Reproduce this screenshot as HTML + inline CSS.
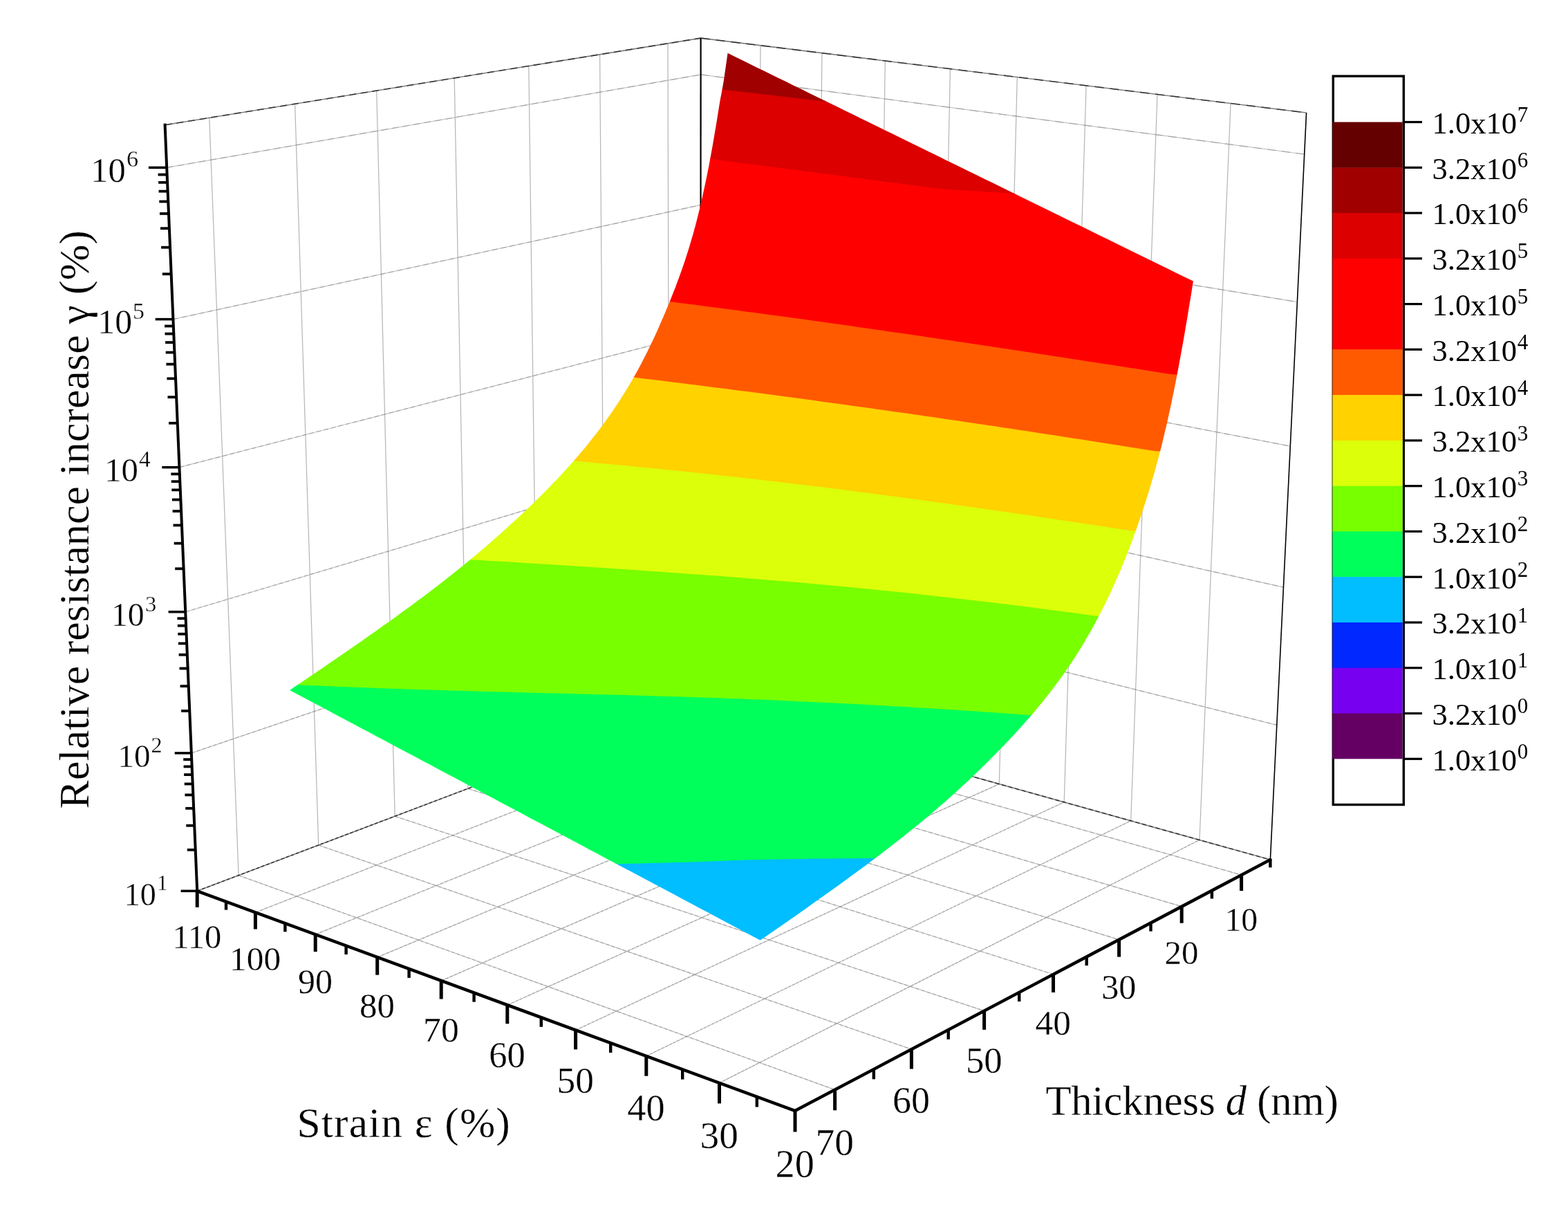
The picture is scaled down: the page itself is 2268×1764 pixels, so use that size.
<!DOCTYPE html>
<html><head><meta charset="utf-8"><title>Relative resistance increase surface plot</title>
<style>html,body{margin:0;padding:0;background:#fff}svg{display:block}</style></head>
<body>
<svg xmlns="http://www.w3.org/2000/svg" width="2268" height="1764" viewBox="0 0 2268 1764">
<rect x="0" y="0" width="2268" height="1764" fill="#fff"/>
<g id="grid" fill="none">
<line x1="968.1" y1="1030.1" x2="966.0" y2="62.8" stroke="#b4b4b4" stroke-width="1.2" stroke-linecap="butt"/>
<line x1="875.1" y1="1065.3" x2="867.6" y2="78.7" stroke="#b4b4b4" stroke-width="1.2" stroke-linecap="butt"/>
<line x1="778.1" y1="1102.0" x2="764.8" y2="95.4" stroke="#b4b4b4" stroke-width="1.2" stroke-linecap="butt"/>
<line x1="676.9" y1="1140.2" x2="657.2" y2="112.8" stroke="#b4b4b4" stroke-width="1.2" stroke-linecap="butt"/>
<line x1="571.2" y1="1180.2" x2="544.7" y2="131.1" stroke="#b4b4b4" stroke-width="1.2" stroke-linecap="butt"/>
<line x1="460.7" y1="1222.0" x2="426.6" y2="150.2" stroke="#b4b4b4" stroke-width="1.2" stroke-linecap="butt"/>
<line x1="345.1" y1="1265.7" x2="302.8" y2="170.3" stroke="#b4b4b4" stroke-width="1.2" stroke-linecap="butt"/>
<line x1="276.8" y1="1088.9" x2="1013.3" y2="839.2" stroke="#8a8a8a" stroke-width="1.2" stroke-linecap="butt" stroke-opacity="0.50"/>
<line x1="276.8" y1="1088.9" x2="1013.3" y2="839.2" stroke="#8a8a8a" stroke-width="1.2" stroke-linecap="butt" stroke-dasharray="5.05 3.36" stroke-opacity="0.6"/>
<line x1="268.2" y1="884.7" x2="1013.4" y2="661.9" stroke="#8a8a8a" stroke-width="1.2" stroke-linecap="butt" stroke-opacity="0.50"/>
<line x1="268.2" y1="884.7" x2="1013.4" y2="661.9" stroke="#8a8a8a" stroke-width="1.2" stroke-linecap="butt" stroke-dasharray="5.66 3.77" stroke-opacity="0.6"/>
<line x1="259.4" y1="675.7" x2="1013.5" y2="481.0" stroke="#8a8a8a" stroke-width="1.2" stroke-linecap="butt" stroke-opacity="0.50"/>
<line x1="259.4" y1="675.7" x2="1013.5" y2="481.0" stroke="#8a8a8a" stroke-width="1.2" stroke-linecap="butt" stroke-dasharray="6.48 4.32" stroke-opacity="0.6"/>
<line x1="250.4" y1="461.6" x2="1013.5" y2="296.4" stroke="#8a8a8a" stroke-width="1.2" stroke-linecap="butt" stroke-opacity="0.50"/>
<line x1="250.4" y1="461.6" x2="1013.5" y2="296.4" stroke="#8a8a8a" stroke-width="1.2" stroke-linecap="butt" stroke-dasharray="7.66 5.10" stroke-opacity="0.6"/>
<line x1="241.2" y1="242.3" x2="1013.6" y2="107.9" stroke="#8a8a8a" stroke-width="1.2" stroke-linecap="butt" stroke-opacity="0.50"/>
<line x1="241.2" y1="242.3" x2="1013.6" y2="107.9" stroke="#8a8a8a" stroke-width="1.2" stroke-linecap="butt" stroke-dasharray="9.45 6.30" stroke-opacity="0.6"/>
<line x1="1735.0" y1="1214.5" x2="1780.1" y2="149.5" stroke="#b4b4b4" stroke-width="1.2" stroke-linecap="butt"/>
<line x1="1635.7" y1="1186.8" x2="1674.0" y2="136.4" stroke="#b4b4b4" stroke-width="1.2" stroke-linecap="butt"/>
<line x1="1539.2" y1="1159.8" x2="1571.1" y2="123.7" stroke="#b4b4b4" stroke-width="1.2" stroke-linecap="butt"/>
<line x1="1445.3" y1="1133.6" x2="1471.3" y2="111.4" stroke="#b4b4b4" stroke-width="1.2" stroke-linecap="butt"/>
<line x1="1354.1" y1="1108.2" x2="1374.4" y2="99.5" stroke="#b4b4b4" stroke-width="1.2" stroke-linecap="butt"/>
<line x1="1265.4" y1="1083.4" x2="1280.3" y2="87.9" stroke="#b4b4b4" stroke-width="1.2" stroke-linecap="butt"/>
<line x1="1179.1" y1="1059.3" x2="1188.9" y2="76.6" stroke="#b4b4b4" stroke-width="1.2" stroke-linecap="butt"/>
<line x1="1095.1" y1="1035.9" x2="1100.0" y2="65.7" stroke="#b4b4b4" stroke-width="1.2" stroke-linecap="butt"/>
<line x1="1013.3" y1="839.2" x2="1846.8" y2="1048.3" stroke="#8a8a8a" stroke-width="1.2" stroke-linecap="butt" stroke-opacity="0.50"/>
<line x1="1013.3" y1="839.2" x2="1846.8" y2="1048.3" stroke="#8a8a8a" stroke-width="1.2" stroke-linecap="butt" stroke-dasharray="6.66 4.44" stroke-opacity="0.6"/>
<line x1="1013.4" y1="661.9" x2="1856.4" y2="849.1" stroke="#8a8a8a" stroke-width="1.2" stroke-linecap="butt" stroke-opacity="0.50"/>
<line x1="1013.4" y1="661.9" x2="1856.4" y2="849.1" stroke="#8a8a8a" stroke-width="1.2" stroke-linecap="butt" stroke-dasharray="7.48 4.98" stroke-opacity="0.6"/>
<line x1="1013.5" y1="481.0" x2="1866.3" y2="645.2" stroke="#8a8a8a" stroke-width="1.2" stroke-linecap="butt" stroke-opacity="0.50"/>
<line x1="1013.5" y1="481.0" x2="1866.3" y2="645.2" stroke="#8a8a8a" stroke-width="1.2" stroke-linecap="butt" stroke-dasharray="8.57 5.71" stroke-opacity="0.6"/>
<line x1="1013.5" y1="296.4" x2="1876.4" y2="436.6" stroke="#8a8a8a" stroke-width="1.2" stroke-linecap="butt" stroke-opacity="0.50"/>
<line x1="1013.5" y1="296.4" x2="1876.4" y2="436.6" stroke="#8a8a8a" stroke-width="1.2" stroke-linecap="butt" stroke-dasharray="10.10 6.73" stroke-opacity="0.6"/>
<line x1="1013.6" y1="107.9" x2="1886.7" y2="223.0" stroke="#8a8a8a" stroke-width="1.2" stroke-linecap="butt" stroke-opacity="0.50"/>
<line x1="1013.6" y1="107.9" x2="1886.7" y2="223.0" stroke="#8a8a8a" stroke-width="1.2" stroke-linecap="butt" stroke-dasharray="12.40 8.27" stroke-opacity="0.6"/>
<line x1="1040.5" y1="1565.9" x2="1735.0" y2="1214.5" stroke="#8a8a8a" stroke-width="1.2" stroke-linecap="butt" stroke-opacity="0.50"/>
<line x1="1040.5" y1="1565.9" x2="1735.0" y2="1214.5" stroke="#8a8a8a" stroke-width="1.2" stroke-linecap="butt" stroke-dasharray="3.59 2.39" stroke-opacity="0.6"/>
<line x1="934.8" y1="1527.0" x2="1635.7" y2="1186.8" stroke="#8a8a8a" stroke-width="1.2" stroke-linecap="butt" stroke-opacity="0.50"/>
<line x1="934.8" y1="1527.0" x2="1635.7" y2="1186.8" stroke="#8a8a8a" stroke-width="1.2" stroke-linecap="butt" stroke-dasharray="3.71 2.47" stroke-opacity="0.6"/>
<line x1="832.6" y1="1489.5" x2="1539.2" y2="1159.8" stroke="#8a8a8a" stroke-width="1.2" stroke-linecap="butt" stroke-opacity="0.50"/>
<line x1="832.6" y1="1489.5" x2="1539.2" y2="1159.8" stroke="#8a8a8a" stroke-width="1.2" stroke-linecap="butt" stroke-dasharray="3.83 2.55" stroke-opacity="0.6"/>
<line x1="733.8" y1="1453.2" x2="1445.3" y2="1133.6" stroke="#8a8a8a" stroke-width="1.2" stroke-linecap="butt" stroke-opacity="0.50"/>
<line x1="733.8" y1="1453.2" x2="1445.3" y2="1133.6" stroke="#8a8a8a" stroke-width="1.2" stroke-linecap="butt" stroke-dasharray="3.95 2.64" stroke-opacity="0.6"/>
<line x1="638.2" y1="1418.1" x2="1354.1" y2="1108.2" stroke="#8a8a8a" stroke-width="1.2" stroke-linecap="butt" stroke-opacity="0.50"/>
<line x1="638.2" y1="1418.1" x2="1354.1" y2="1108.2" stroke="#8a8a8a" stroke-width="1.2" stroke-linecap="butt" stroke-dasharray="4.08 2.72" stroke-opacity="0.6"/>
<line x1="545.7" y1="1384.1" x2="1265.4" y2="1083.4" stroke="#8a8a8a" stroke-width="1.2" stroke-linecap="butt" stroke-opacity="0.50"/>
<line x1="545.7" y1="1384.1" x2="1265.4" y2="1083.4" stroke="#8a8a8a" stroke-width="1.2" stroke-linecap="butt" stroke-dasharray="4.20 2.80" stroke-opacity="0.6"/>
<line x1="456.2" y1="1351.1" x2="1179.1" y2="1059.3" stroke="#8a8a8a" stroke-width="1.2" stroke-linecap="butt" stroke-opacity="0.50"/>
<line x1="456.2" y1="1351.1" x2="1179.1" y2="1059.3" stroke="#8a8a8a" stroke-width="1.2" stroke-linecap="butt" stroke-dasharray="4.33 2.89" stroke-opacity="0.6"/>
<line x1="369.4" y1="1319.3" x2="1095.1" y2="1035.9" stroke="#8a8a8a" stroke-width="1.2" stroke-linecap="butt" stroke-opacity="0.50"/>
<line x1="369.4" y1="1319.3" x2="1095.1" y2="1035.9" stroke="#8a8a8a" stroke-width="1.2" stroke-linecap="butt" stroke-dasharray="4.45 2.97" stroke-opacity="0.6"/>
<line x1="968.1" y1="1030.1" x2="1795.6" y2="1265.1" stroke="#8a8a8a" stroke-width="1.2" stroke-linecap="butt" stroke-opacity="0.50"/>
<line x1="968.1" y1="1030.1" x2="1795.6" y2="1265.1" stroke="#8a8a8a" stroke-width="1.2" stroke-linecap="butt" stroke-dasharray="5.93 3.95" stroke-opacity="0.6"/>
<line x1="875.1" y1="1065.3" x2="1709.2" y2="1310.7" stroke="#8a8a8a" stroke-width="1.2" stroke-linecap="butt" stroke-opacity="0.50"/>
<line x1="875.1" y1="1065.3" x2="1709.2" y2="1310.7" stroke="#8a8a8a" stroke-width="1.2" stroke-linecap="butt" stroke-dasharray="5.74 3.83" stroke-opacity="0.6"/>
<line x1="778.1" y1="1102.0" x2="1618.6" y2="1358.6" stroke="#8a8a8a" stroke-width="1.2" stroke-linecap="butt" stroke-opacity="0.50"/>
<line x1="778.1" y1="1102.0" x2="1618.6" y2="1358.6" stroke="#8a8a8a" stroke-width="1.2" stroke-linecap="butt" stroke-dasharray="5.55 3.70" stroke-opacity="0.6"/>
<line x1="676.9" y1="1140.2" x2="1523.5" y2="1408.8" stroke="#8a8a8a" stroke-width="1.2" stroke-linecap="butt" stroke-opacity="0.50"/>
<line x1="676.9" y1="1140.2" x2="1523.5" y2="1408.8" stroke="#8a8a8a" stroke-width="1.2" stroke-linecap="butt" stroke-dasharray="5.36 3.57" stroke-opacity="0.6"/>
<line x1="571.2" y1="1180.2" x2="1423.6" y2="1461.6" stroke="#8a8a8a" stroke-width="1.2" stroke-linecap="butt" stroke-opacity="0.50"/>
<line x1="571.2" y1="1180.2" x2="1423.6" y2="1461.6" stroke="#8a8a8a" stroke-width="1.2" stroke-linecap="butt" stroke-dasharray="5.17 3.45" stroke-opacity="0.6"/>
<line x1="460.7" y1="1222.0" x2="1318.4" y2="1517.1" stroke="#8a8a8a" stroke-width="1.2" stroke-linecap="butt" stroke-opacity="0.50"/>
<line x1="460.7" y1="1222.0" x2="1318.4" y2="1517.1" stroke="#8a8a8a" stroke-width="1.2" stroke-linecap="butt" stroke-dasharray="4.98 3.32" stroke-opacity="0.6"/>
<line x1="345.1" y1="1265.7" x2="1207.6" y2="1575.6" stroke="#8a8a8a" stroke-width="1.2" stroke-linecap="butt" stroke-opacity="0.50"/>
<line x1="345.1" y1="1265.7" x2="1207.6" y2="1575.6" stroke="#8a8a8a" stroke-width="1.2" stroke-linecap="butt" stroke-dasharray="4.79 3.19" stroke-opacity="0.6"/>
</g>
<g id="box" fill="none">
<line x1="238.6" y1="180.7" x2="1013.6" y2="55.1" stroke="#000" stroke-width="1.6" stroke-linecap="butt" stroke-opacity="0.50"/>
<line x1="238.6" y1="180.7" x2="1013.6" y2="55.1" stroke="#000" stroke-width="1.6" stroke-linecap="butt" stroke-dasharray="10.12 6.75" stroke-opacity="0.6"/>
<line x1="1013.6" y1="55.1" x2="1889.6" y2="163.0" stroke="#000" stroke-width="1.6" stroke-linecap="butt" stroke-opacity="0.50"/>
<line x1="1013.6" y1="55.1" x2="1889.6" y2="163.0" stroke="#000" stroke-width="1.6" stroke-linecap="butt" stroke-dasharray="13.25 8.83" stroke-opacity="0.6"/>
<line x1="285.2" y1="1288.3" x2="1013.3" y2="1013.0" stroke="#000" stroke-width="1.6" stroke-linecap="butt" stroke-opacity="0.50"/>
<line x1="285.2" y1="1288.3" x2="1013.3" y2="1013.0" stroke="#000" stroke-width="1.6" stroke-linecap="butt" stroke-dasharray="4.58 3.05" stroke-opacity="0.6"/>
<line x1="1013.3" y1="1013.0" x2="1837.4" y2="1243.1" stroke="#000" stroke-width="1.6" stroke-linecap="butt" stroke-opacity="0.50"/>
<line x1="1013.3" y1="1013.0" x2="1837.4" y2="1243.1" stroke="#000" stroke-width="1.6" stroke-linecap="butt" stroke-dasharray="6.03 4.02" stroke-opacity="0.6"/>
<line x1="1013.6" y1="55.1" x2="1013.3" y2="1013.0" stroke="#000" stroke-width="2.2" stroke-linecap="butt"/>
<line x1="1889.6" y1="163.0" x2="1837.4" y2="1243.1" stroke="#000" stroke-width="1.6" stroke-linecap="butt"/>
</g>
<defs><clipPath id="surfclip"><path d="M1725.9 406.6 L1724.4 415.9 L1723.0 425.0 L1721.5 434.1 L1720.0 443.0 L1718.6 451.7 L1717.2 460.3 L1715.7 468.8 L1714.3 477.2 L1712.9 485.4 L1711.5 493.5 L1710.0 501.4 L1708.6 509.2 L1707.2 516.9 L1705.8 524.4 L1704.5 531.8 L1703.1 539.1 L1701.7 546.3 L1700.3 553.3 L1698.9 560.2 L1697.6 566.9 L1696.2 573.6 L1694.9 580.1 L1693.5 586.4 L1692.2 592.7 L1690.8 598.8 L1689.5 604.8 L1688.2 610.7 L1686.9 616.5 L1685.5 622.1 L1684.2 627.7 L1682.9 633.1 L1681.6 638.5 L1680.3 643.7 L1679.0 648.9 L1677.7 653.9 L1676.4 658.9 L1675.1 663.7 L1673.8 668.5 L1672.5 673.2 L1671.3 677.9 L1670.0 682.4 L1668.7 686.9 L1667.4 691.3 L1666.1 695.7 L1664.9 700.0 L1663.6 704.2 L1662.3 708.4 L1661.1 712.5 L1659.8 716.5 L1658.6 720.5 L1657.3 724.5 L1656.0 728.4 L1654.8 732.3 L1653.5 736.1 L1652.3 739.9 L1651.0 743.7 L1649.8 747.4 L1648.5 751.1 L1647.3 754.7 L1646.0 758.3 L1644.8 761.8 L1643.5 765.4 L1642.3 768.8 L1641.0 772.3 L1639.8 775.7 L1638.6 779.1 L1637.3 782.4 L1636.1 785.7 L1634.8 789.0 L1633.6 792.2 L1632.4 795.4 L1631.1 798.6 L1629.9 801.7 L1628.6 804.8 L1627.4 807.9 L1626.2 811.0 L1624.9 814.0 L1623.7 817.0 L1622.5 820.0 L1621.3 822.9 L1616.3 834.5 L1611.3 845.7 L1606.4 856.5 L1601.4 866.9 L1596.5 876.9 L1591.5 886.7 L1586.6 896.1 L1581.7 905.2 L1576.8 914.0 L1571.8 922.6 L1566.9 930.9 L1562.0 939.0 L1557.0 946.9 L1552.1 954.5 L1547.2 961.9 L1542.2 969.1 L1537.3 976.2 L1532.4 983.1 L1527.4 989.8 L1522.5 996.3 L1517.5 1002.8 L1512.5 1009.1 L1507.6 1015.2 L1502.6 1021.3 L1497.6 1027.3 L1492.6 1033.2 L1487.6 1038.9 L1482.6 1044.6 L1477.6 1050.3 L1472.6 1055.8 L1467.6 1061.3 L1462.5 1066.7 L1457.5 1072.1 L1452.4 1077.4 L1447.4 1082.6 L1442.3 1087.8 L1437.2 1093.0 L1432.1 1098.1 L1427.0 1103.2 L1421.9 1108.2 L1416.8 1113.2 L1411.7 1118.2 L1406.5 1123.1 L1401.4 1128.0 L1396.2 1132.8 L1391.0 1137.6 L1385.8 1142.4 L1380.6 1147.1 L1375.4 1151.8 L1370.2 1156.4 L1365.0 1161.0 L1359.8 1165.6 L1354.5 1170.1 L1349.3 1174.6 L1344.0 1179.0 L1338.7 1183.4 L1333.4 1187.8 L1328.1 1192.2 L1322.8 1196.5 L1317.5 1200.8 L1312.1 1205.1 L1306.8 1209.4 L1301.4 1213.6 L1296.0 1217.8 L1290.6 1222.0 L1285.2 1226.2 L1279.8 1230.3 L1274.4 1234.5 L1269.0 1238.6 L1263.5 1242.7 L1258.1 1246.8 L1252.6 1250.9 L1247.1 1255.0 L1241.6 1259.0 L1236.1 1263.1 L1230.5 1267.1 L1225.0 1271.2 L1219.4 1275.2 L1213.9 1279.2 L1208.3 1283.3 L1202.7 1287.3 L1197.1 1291.3 L1191.5 1295.3 L1185.8 1299.3 L1180.2 1303.3 L1174.5 1307.3 L1168.8 1311.4 L1163.1 1315.4 L1157.4 1319.4 L1151.7 1323.4 L1146.0 1327.4 L1140.2 1331.4 L1134.5 1335.4 L1128.7 1339.4 L1122.9 1343.5 L1117.1 1347.5 L1111.3 1351.5 L1105.4 1355.5 L1099.6 1359.6 L1086.8 1352.8 L1074.0 1346.0 L1061.3 1339.2 L1048.6 1332.5 L1036.0 1325.8 L1023.4 1319.1 L1010.9 1312.5 L998.4 1305.8 L986.0 1299.2 L973.6 1292.6 L961.3 1286.1 L949.0 1279.5 L936.8 1273.0 L924.6 1266.6 L912.4 1260.1 L900.3 1253.7 L888.2 1247.2 L876.2 1240.9 L864.3 1234.5 L852.3 1228.2 L840.4 1221.8 L828.6 1215.5 L816.8 1209.3 L805.1 1203.0 L793.3 1196.8 L781.7 1190.6 L770.0 1184.4 L758.5 1178.3 L746.9 1172.1 L735.4 1166.0 L724.0 1159.9 L712.5 1153.8 L701.2 1147.8 L689.8 1141.8 L678.5 1135.8 L667.3 1129.8 L656.1 1123.8 L644.9 1117.9 L633.7 1112.0 L622.7 1106.1 L611.6 1100.2 L600.6 1094.3 L589.6 1088.5 L578.7 1082.7 L567.8 1076.9 L556.9 1071.1 L546.1 1065.4 L535.3 1059.6 L524.5 1053.9 L513.8 1048.2 L503.1 1042.5 L492.5 1036.9 L481.9 1031.3 L471.3 1025.6 L460.8 1020.0 L450.3 1014.5 L439.9 1008.9 L429.5 1003.4 L419.1 997.9 L425.1 993.8 L431.1 989.8 L437.1 985.8 L443.0 981.7 L449.0 977.7 L454.9 973.7 L460.8 969.7 L466.8 965.7 L472.7 961.6 L478.6 957.6 L484.4 953.6 L490.3 949.6 L496.1 945.5 L502.0 941.5 L507.8 937.5 L513.6 933.5 L519.4 929.4 L525.2 925.4 L531.0 921.3 L536.7 917.3 L542.5 913.2 L548.2 909.2 L553.9 905.1 L559.7 901.0 L565.4 896.9 L571.0 892.9 L576.7 888.7 L582.4 884.6 L588.0 880.5 L593.7 876.4 L599.3 872.2 L604.9 868.0 L610.5 863.9 L616.1 859.7 L621.7 855.4 L627.2 851.2 L632.8 846.9 L638.3 842.7 L643.8 838.4 L649.4 834.0 L654.9 829.7 L660.4 825.3 L665.8 820.9 L671.3 816.5 L676.8 812.0 L682.2 807.5 L687.6 803.0 L693.1 798.4 L698.5 793.8 L703.9 789.2 L709.3 784.5 L714.6 779.8 L720.0 775.0 L725.4 770.3 L730.7 765.5 L736.0 760.6 L741.4 755.8 L746.7 750.9 L752.0 745.9 L757.3 741.0 L762.6 736.0 L767.8 730.9 L773.1 725.8 L778.3 720.7 L783.6 715.5 L788.8 710.3 L794.0 705.0 L799.2 699.6 L804.4 694.2 L809.6 688.7 L814.8 683.1 L819.9 677.5 L825.1 671.7 L830.2 665.9 L835.4 660.0 L840.5 654.0 L845.6 647.9 L850.7 641.7 L855.8 635.3 L860.9 628.8 L866.0 622.2 L871.0 615.5 L876.1 608.6 L881.1 601.5 L886.2 594.3 L891.2 586.8 L896.2 579.2 L901.2 571.3 L906.2 563.2 L911.2 554.9 L916.2 546.3 L921.2 537.4 L926.2 528.2 L931.1 518.7 L936.1 508.9 L941.0 498.8 L946.0 488.4 L950.9 477.7 L955.8 466.6 L957.0 463.8 L958.2 461.0 L959.5 458.2 L960.7 455.3 L961.9 452.5 L963.1 449.6 L964.3 446.6 L965.5 443.7 L966.8 440.8 L968.0 437.8 L969.2 434.8 L970.4 431.8 L971.6 428.7 L972.8 425.7 L974.0 422.6 L975.3 419.5 L976.5 416.4 L977.7 413.2 L978.9 410.0 L980.1 406.8 L981.3 403.5 L982.5 400.2 L983.7 396.9 L984.9 393.5 L986.2 390.1 L987.4 386.6 L988.6 383.1 L989.8 379.5 L991.0 375.9 L992.2 372.2 L993.4 368.5 L994.6 364.7 L995.8 360.9 L997.0 357.0 L998.2 353.0 L999.4 348.9 L1000.6 344.8 L1001.9 340.6 L1003.1 336.3 L1004.3 332.0 L1005.5 327.5 L1006.7 322.9 L1007.9 318.3 L1009.1 313.5 L1010.3 308.7 L1011.5 303.8 L1012.7 298.7 L1013.9 293.6 L1015.1 288.3 L1016.3 283.0 L1017.5 277.5 L1018.7 272.0 L1019.9 266.3 L1021.2 260.5 L1022.4 254.6 L1023.6 248.6 L1024.8 242.5 L1026.0 236.2 L1027.2 229.8 L1028.4 223.3 L1029.6 216.7 L1030.8 209.9 L1032.0 203.0 L1033.2 196.0 L1034.4 188.8 L1035.7 181.5 L1036.9 174.0 L1038.1 166.4 L1039.3 158.9 L1040.5 151.5 L1041.7 144.6 L1042.9 138.2 L1044.1 132.0 L1045.3 125.5 L1046.6 118.1 L1047.8 110.1 L1049.0 101.8 L1050.2 93.3 L1051.4 84.9 L1052.6 76.8 L1063.1 81.9 L1073.5 87.1 L1084.0 92.2 L1094.5 97.4 L1105.1 102.5 L1115.7 107.7 L1126.3 112.9 L1137.0 118.1 L1147.6 123.4 L1158.4 128.6 L1169.1 133.9 L1179.9 139.2 L1190.7 144.5 L1201.5 149.8 L1212.4 155.1 L1223.3 160.4 L1234.3 165.8 L1245.2 171.2 L1256.2 176.6 L1267.3 182.0 L1278.4 187.4 L1289.5 192.8 L1300.6 198.3 L1311.8 203.8 L1323.0 209.3 L1334.3 214.8 L1345.5 220.3 L1356.9 225.8 L1368.2 231.4 L1379.6 237.0 L1391.0 242.6 L1402.5 248.2 L1414.0 253.8 L1425.5 259.5 L1437.1 265.1 L1448.7 270.8 L1460.3 276.5 L1472.0 282.2 L1483.7 288.0 L1495.4 293.7 L1507.2 299.5 L1519.0 305.3 L1530.9 311.1 L1542.8 316.9 L1554.7 322.7 L1566.7 328.6 L1578.7 334.5 L1590.8 340.4 L1602.9 346.3 L1615.0 352.3 L1627.1 358.2 L1639.4 364.2 L1651.6 370.2 L1663.9 376.2 L1676.2 382.2 L1688.6 388.3 L1701.0 394.4 L1713.4 400.5Z"/></clipPath></defs>
<g id="surface" stroke="none" clip-path="url(#surfclip)">
<path d="M-1000.0 3000.0 L3300.0 3000.0 L3300.0 1239.7 L1270.5 1239.7 L1257.2 1239.8 L1244.0 1239.9 L1230.7 1240.0 L1217.4 1240.1 L1204.0 1240.2 L1190.7 1240.3 L1177.4 1240.4 L1164.0 1240.7 L1150.6 1240.9 L1137.3 1241.1 L1123.9 1241.4 L1110.6 1241.6 L1097.2 1241.9 L1083.9 1242.1 L1070.6 1242.5 L1057.3 1243.1 L1044.0 1243.6 L1030.7 1244.1 L1017.5 1244.6 L1004.3 1245.0 L991.1 1245.5 L978.0 1245.8 L964.9 1246.2 L951.8 1246.5 L938.8 1246.9 L925.8 1247.2 L912.8 1247.5 L899.9 1247.8 L887.0 1248.0 L-1000.0 1248.0Z" fill="#00beff"/>
<path d="M-1000.0 1249.2 L887.0 1249.2 L899.9 1249.0 L912.8 1248.7 L925.8 1248.4 L938.8 1248.1 L951.8 1247.7 L964.9 1247.4 L978.0 1247.0 L991.1 1246.7 L1004.3 1246.2 L1017.5 1245.8 L1030.7 1245.3 L1044.0 1244.8 L1057.3 1244.3 L1070.6 1243.7 L1083.9 1243.3 L1097.2 1243.1 L1110.6 1242.8 L1123.9 1242.6 L1137.3 1242.3 L1150.6 1242.1 L1164.0 1241.9 L1177.4 1241.6 L1190.7 1241.5 L1204.0 1241.4 L1217.4 1241.3 L1230.7 1241.2 L1244.0 1241.1 L1257.2 1241.0 L1270.5 1240.9 L3300.0 1240.9 L3300.0 1032.6 L1484.8 1032.6 L1474.7 1031.9 L1464.5 1031.1 L1454.4 1030.3 L1444.2 1029.6 L1434.0 1028.9 L1423.7 1028.2 L1413.5 1027.4 L1403.2 1026.8 L1393.0 1026.1 L1382.7 1025.4 L1372.4 1024.7 L1362.0 1024.1 L1351.7 1023.4 L1341.3 1022.8 L1331.0 1022.2 L1320.6 1021.5 L1310.2 1020.9 L1299.8 1020.3 L1289.4 1019.7 L1279.0 1019.1 L1268.6 1018.6 L1258.1 1018.0 L1247.6 1017.4 L1237.2 1016.9 L1226.7 1016.3 L1216.2 1015.8 L1205.7 1015.3 L1195.1 1014.7 L1184.6 1014.2 L1174.0 1013.7 L1163.5 1013.2 L1152.9 1012.7 L1142.3 1012.2 L1131.7 1011.8 L1121.0 1011.3 L1110.4 1010.9 L1099.7 1010.4 L1089.0 1010.0 L1078.3 1009.5 L1067.6 1009.1 L1056.8 1008.7 L1046.1 1008.3 L1035.3 1007.9 L1024.4 1007.6 L1013.6 1007.2 L1002.8 1006.8 L991.9 1006.5 L981.0 1006.1 L970.1 1005.8 L959.2 1005.5 L948.3 1005.2 L937.3 1004.8 L926.4 1004.5 L915.4 1004.2 L904.4 1003.9 L893.5 1003.6 L882.5 1003.3 L871.5 1003.1 L860.5 1002.8 L849.5 1002.5 L838.5 1002.2 L827.5 1001.9 L816.5 1001.6 L805.5 1001.4 L794.5 1001.1 L783.5 1000.8 L772.6 1000.5 L761.6 1000.2 L750.6 999.9 L739.7 999.6 L728.7 999.4 L717.8 999.1 L706.9 998.8 L696.0 998.5 L685.1 998.2 L674.2 997.8 L663.4 997.5 L652.5 997.2 L641.7 996.9 L630.9 996.6 L620.2 996.2 L609.4 995.9 L598.7 995.5 L588.0 995.2 L577.3 994.8 L566.6 994.5 L556.0 994.1 L545.4 993.7 L534.8 993.3 L524.2 992.9 L513.7 992.5 L503.2 992.1 L492.7 991.7 L482.3 991.3 L471.8 990.8 L461.4 990.4 L451.1 989.9 L440.7 989.5 L430.4 989.0 L-1000.0 989.0Z" fill="#00ff5a"/>
<path d="M-1000.0 990.2 L430.4 990.2 L440.7 990.7 L451.1 991.1 L461.4 991.6 L471.8 992.0 L482.3 992.5 L492.7 992.9 L503.2 993.3 L513.7 993.7 L524.2 994.1 L534.8 994.5 L545.4 994.9 L556.0 995.3 L566.6 995.7 L577.3 996.0 L588.0 996.4 L598.7 996.7 L609.4 997.1 L620.2 997.4 L630.9 997.8 L641.7 998.1 L652.5 998.4 L663.4 998.7 L674.2 999.0 L685.1 999.4 L696.0 999.7 L706.9 1000.0 L717.8 1000.3 L728.7 1000.6 L739.7 1000.8 L750.6 1001.1 L761.6 1001.4 L772.6 1001.7 L783.5 1002.0 L794.5 1002.3 L805.5 1002.6 L816.5 1002.8 L827.5 1003.1 L838.5 1003.4 L849.5 1003.7 L860.5 1004.0 L871.5 1004.3 L882.5 1004.5 L893.5 1004.8 L904.4 1005.1 L915.4 1005.4 L926.4 1005.7 L937.3 1006.0 L948.3 1006.4 L959.2 1006.7 L970.1 1007.0 L981.0 1007.3 L991.9 1007.7 L1002.8 1008.0 L1013.6 1008.4 L1024.4 1008.8 L1035.3 1009.1 L1046.1 1009.5 L1056.8 1009.9 L1067.6 1010.3 L1078.3 1010.7 L1089.0 1011.2 L1099.7 1011.6 L1110.4 1012.1 L1121.0 1012.5 L1131.7 1013.0 L1142.3 1013.4 L1152.9 1013.9 L1163.5 1014.4 L1174.0 1014.9 L1184.6 1015.4 L1195.1 1015.9 L1205.7 1016.5 L1216.2 1017.0 L1226.7 1017.5 L1237.2 1018.1 L1247.6 1018.6 L1258.1 1019.2 L1268.6 1019.8 L1279.0 1020.3 L1289.4 1020.9 L1299.8 1021.5 L1310.2 1022.1 L1320.6 1022.7 L1331.0 1023.4 L1341.3 1024.0 L1351.7 1024.6 L1362.0 1025.3 L1372.4 1025.9 L1382.7 1026.6 L1393.0 1027.3 L1403.2 1028.0 L1413.5 1028.6 L1423.7 1029.4 L1434.0 1030.1 L1444.2 1030.8 L1454.4 1031.5 L1464.5 1032.3 L1474.7 1033.1 L1484.8 1033.8 L3300.0 1033.8 L3300.0 889.2 L1583.4 889.2 L1574.6 888.0 L1565.8 886.8 L1557.1 885.6 L1548.3 884.4 L1539.5 883.3 L1530.8 882.1 L1522.0 881.0 L1513.2 879.8 L1504.4 878.7 L1495.7 877.6 L1486.9 876.4 L1478.1 875.3 L1469.3 874.2 L1460.5 873.1 L1451.7 872.0 L1442.9 871.0 L1434.0 869.9 L1425.2 868.8 L1416.4 867.8 L1407.5 866.7 L1398.7 865.7 L1389.8 864.7 L1380.9 863.7 L1372.1 862.7 L1363.2 861.7 L1354.3 860.7 L1345.4 859.7 L1336.5 858.7 L1327.5 857.7 L1318.6 856.8 L1309.6 855.9 L1300.7 854.9 L1291.7 854.0 L1282.7 853.1 L1273.7 852.2 L1264.7 851.3 L1255.7 850.4 L1246.7 849.5 L1237.6 848.6 L1228.6 847.8 L1219.5 846.9 L1210.5 846.0 L1201.4 845.2 L1192.3 844.4 L1183.2 843.6 L1174.0 842.7 L1164.9 841.9 L1155.8 841.1 L1146.6 840.3 L1137.5 839.6 L1128.3 838.8 L1119.1 838.0 L1109.9 837.3 L1100.7 836.5 L1091.5 835.8 L1082.3 835.0 L1073.0 834.3 L1063.8 833.6 L1054.5 832.8 L1045.3 832.1 L1036.0 831.4 L1026.7 830.7 L1017.4 830.0 L1008.1 829.3 L998.8 828.7 L989.5 828.0 L980.2 827.3 L970.9 826.7 L961.5 826.0 L952.2 825.3 L942.9 824.7 L933.5 824.0 L924.2 823.4 L914.8 822.8 L905.5 822.1 L896.1 821.5 L886.7 820.9 L877.4 820.3 L868.0 819.6 L858.6 819.0 L849.3 818.4 L839.9 817.8 L830.5 817.2 L821.1 816.6 L811.7 816.0 L802.4 815.4 L793.0 814.8 L783.6 814.2 L774.2 813.7 L764.8 813.1 L755.4 812.5 L746.0 811.9 L736.6 811.4 L727.2 810.8 L717.8 810.2 L708.4 809.7 L699.0 809.1 L689.6 808.6 L680.1 808.0 L-1000.0 808.0Z" fill="#78ff00"/>
<path d="M-1000.0 809.2 L680.1 809.2 L689.6 809.8 L699.0 810.3 L708.4 810.9 L717.8 811.4 L727.2 812.0 L736.6 812.6 L746.0 813.1 L755.4 813.7 L764.8 814.3 L774.2 814.9 L783.6 815.4 L793.0 816.0 L802.4 816.6 L811.7 817.2 L821.1 817.8 L830.5 818.4 L839.9 819.0 L849.3 819.6 L858.6 820.2 L868.0 820.8 L877.4 821.5 L886.7 822.1 L896.1 822.7 L905.5 823.3 L914.8 824.0 L924.2 824.6 L933.5 825.2 L942.9 825.9 L952.2 826.5 L961.5 827.2 L970.9 827.9 L980.2 828.5 L989.5 829.2 L998.8 829.9 L1008.1 830.5 L1017.4 831.2 L1026.7 831.9 L1036.0 832.6 L1045.3 833.3 L1054.5 834.0 L1063.8 834.8 L1073.0 835.5 L1082.3 836.2 L1091.5 837.0 L1100.7 837.7 L1109.9 838.5 L1119.1 839.2 L1128.3 840.0 L1137.5 840.8 L1146.6 841.5 L1155.8 842.3 L1164.9 843.1 L1174.0 843.9 L1183.2 844.8 L1192.3 845.6 L1201.4 846.4 L1210.5 847.2 L1219.5 848.1 L1228.6 849.0 L1237.6 849.8 L1246.7 850.7 L1255.7 851.6 L1264.7 852.5 L1273.7 853.4 L1282.7 854.3 L1291.7 855.2 L1300.7 856.1 L1309.6 857.1 L1318.6 858.0 L1327.5 858.9 L1336.5 859.9 L1345.4 860.9 L1354.3 861.9 L1363.2 862.9 L1372.1 863.9 L1380.9 864.9 L1389.8 865.9 L1398.7 866.9 L1407.5 867.9 L1416.4 869.0 L1425.2 870.0 L1434.0 871.1 L1442.9 872.2 L1451.7 873.2 L1460.5 874.3 L1469.3 875.4 L1478.1 876.5 L1486.9 877.6 L1495.7 878.8 L1504.4 879.9 L1513.2 881.0 L1522.0 882.2 L1530.8 883.3 L1539.5 884.5 L1548.3 885.6 L1557.1 886.8 L1565.8 888.0 L1574.6 889.2 L1583.4 890.4 L3300.0 890.4 L3300.0 766.4 L1636.9 766.4 L1628.7 765.1 L1620.4 763.9 L1612.2 762.6 L1604.0 761.3 L1595.7 760.1 L1587.5 758.8 L1579.3 757.6 L1571.1 756.3 L1562.9 755.1 L1554.7 753.8 L1546.6 752.6 L1538.4 751.4 L1530.2 750.2 L1522.0 748.9 L1513.9 747.7 L1505.7 746.5 L1497.6 745.3 L1489.4 744.1 L1481.3 742.9 L1473.2 741.7 L1465.0 740.6 L1456.9 739.4 L1448.8 738.2 L1440.7 737.0 L1432.5 735.9 L1424.4 734.7 L1416.3 733.6 L1408.2 732.4 L1400.1 731.3 L1392.0 730.1 L1383.9 729.0 L1375.8 727.9 L1367.8 726.8 L1359.7 725.6 L1351.6 724.5 L1343.5 723.4 L1335.4 722.3 L1327.4 721.2 L1319.3 720.1 L1311.2 719.0 L1303.2 718.0 L1295.1 716.9 L1287.0 715.8 L1279.0 714.7 L1270.9 713.7 L1262.8 712.6 L1254.8 711.6 L1246.7 710.5 L1238.7 709.5 L1230.6 708.5 L1222.5 707.4 L1214.5 706.4 L1206.4 705.4 L1198.3 704.4 L1190.2 703.4 L1182.2 702.4 L1174.1 701.4 L1166.0 700.4 L1157.9 699.4 L1149.8 698.5 L1141.7 697.5 L1133.6 696.5 L1125.5 695.6 L1117.4 694.6 L1109.3 693.7 L1101.2 692.7 L1093.1 691.8 L1084.9 690.9 L1076.8 690.0 L1068.7 689.1 L1060.5 688.1 L1052.4 687.2 L1044.2 686.4 L1036.1 685.5 L1027.9 684.6 L1019.7 683.7 L1011.5 682.8 L1003.3 682.0 L995.1 681.1 L986.9 680.3 L978.7 679.4 L970.5 678.6 L962.3 677.8 L954.1 676.9 L945.8 676.1 L937.6 675.3 L929.3 674.5 L921.1 673.7 L912.8 672.9 L904.5 672.1 L896.3 671.3 L888.0 670.5 L879.7 669.7 L871.4 669.0 L863.1 668.2 L854.8 667.4 L846.5 666.7 L838.1 665.9 L829.8 665.2 L-1000.0 665.2Z" fill="#dcff0a"/>
<path d="M-1000.0 666.4 L829.8 666.4 L838.1 667.1 L846.5 667.9 L854.8 668.6 L863.1 669.4 L871.4 670.2 L879.7 670.9 L888.0 671.7 L896.3 672.5 L904.5 673.3 L912.8 674.1 L921.1 674.9 L929.3 675.7 L937.6 676.5 L945.8 677.3 L954.1 678.1 L962.3 679.0 L970.5 679.8 L978.7 680.6 L986.9 681.5 L995.1 682.3 L1003.3 683.2 L1011.5 684.0 L1019.7 684.9 L1027.9 685.8 L1036.1 686.7 L1044.2 687.6 L1052.4 688.4 L1060.5 689.3 L1068.7 690.3 L1076.8 691.2 L1084.9 692.1 L1093.1 693.0 L1101.2 693.9 L1109.3 694.9 L1117.4 695.8 L1125.5 696.8 L1133.6 697.7 L1141.7 698.7 L1149.8 699.7 L1157.9 700.6 L1166.0 701.6 L1174.1 702.6 L1182.2 703.6 L1190.2 704.6 L1198.3 705.6 L1206.4 706.6 L1214.5 707.6 L1222.5 708.6 L1230.6 709.7 L1238.7 710.7 L1246.7 711.7 L1254.8 712.8 L1262.8 713.8 L1270.9 714.9 L1279.0 715.9 L1287.0 717.0 L1295.1 718.1 L1303.2 719.2 L1311.2 720.2 L1319.3 721.3 L1327.4 722.4 L1335.4 723.5 L1343.5 724.6 L1351.6 725.7 L1359.7 726.8 L1367.8 728.0 L1375.8 729.1 L1383.9 730.2 L1392.0 731.3 L1400.1 732.5 L1408.2 733.6 L1416.3 734.8 L1424.4 735.9 L1432.5 737.1 L1440.7 738.2 L1448.8 739.4 L1456.9 740.6 L1465.0 741.8 L1473.2 742.9 L1481.3 744.1 L1489.4 745.3 L1497.6 746.5 L1505.7 747.7 L1513.9 748.9 L1522.0 750.1 L1530.2 751.4 L1538.4 752.6 L1546.6 753.8 L1554.7 755.0 L1562.9 756.3 L1571.1 757.5 L1579.3 758.8 L1587.5 760.0 L1595.7 761.3 L1604.0 762.5 L1612.2 763.8 L1620.4 765.1 L1628.7 766.3 L1636.9 767.6 L3300.0 767.6 L3300.0 651.4 L1672.5 651.4 L1664.5 650.1 L1656.5 648.9 L1648.6 647.6 L1640.6 646.3 L1632.7 645.1 L1624.8 643.8 L1616.9 642.6 L1609.0 641.3 L1601.1 640.1 L1593.2 638.8 L1585.3 637.6 L1577.4 636.4 L1569.6 635.1 L1561.7 633.9 L1553.9 632.7 L1546.0 631.5 L1538.2 630.3 L1530.4 629.1 L1522.6 627.9 L1514.8 626.7 L1507.0 625.5 L1499.2 624.3 L1491.4 623.1 L1483.6 621.9 L1475.9 620.7 L1468.1 619.6 L1460.4 618.4 L1452.6 617.2 L1444.9 616.1 L1437.2 614.9 L1429.4 613.7 L1421.7 612.6 L1414.0 611.5 L1406.3 610.3 L1398.6 609.2 L1390.9 608.0 L1383.3 606.9 L1375.6 605.8 L1367.9 604.7 L1360.2 603.5 L1352.6 602.4 L1344.9 601.3 L1337.3 600.2 L1329.6 599.1 L1322.0 598.0 L1314.4 596.9 L1306.7 595.8 L1299.1 594.8 L1291.5 593.7 L1283.9 592.6 L1276.3 591.5 L1268.7 590.5 L1261.1 589.4 L1253.5 588.3 L1246.0 587.3 L1238.4 586.2 L1230.8 585.2 L1223.2 584.1 L1215.7 583.1 L1208.1 582.1 L1200.6 581.0 L1193.0 580.0 L1185.5 579.0 L1178.0 577.9 L1170.4 576.9 L1162.9 575.9 L1155.4 574.9 L1147.9 573.9 L1140.4 572.9 L1132.9 571.9 L1125.4 570.9 L1117.9 569.9 L1110.4 568.9 L1102.9 567.9 L1095.4 566.9 L1088.0 565.9 L1080.5 564.9 L1073.0 564.0 L1065.5 563.0 L1058.1 562.0 L1050.6 561.1 L1043.2 560.1 L1035.7 559.2 L1028.2 558.2 L1020.8 557.3 L1013.3 556.3 L1005.9 555.4 L998.4 554.5 L991.0 553.5 L983.6 552.6 L976.1 551.7 L968.7 550.7 L961.2 549.8 L953.8 548.9 L946.4 548.0 L938.9 547.1 L931.5 546.2 L924.0 545.3 L916.6 544.4 L-1000.0 544.4Z" fill="#ffd200"/>
<path d="M-1000.0 545.6 L916.6 545.6 L924.0 546.5 L931.5 547.4 L938.9 548.3 L946.4 549.2 L953.8 550.1 L961.2 551.0 L968.7 551.9 L976.1 552.9 L983.6 553.8 L991.0 554.7 L998.4 555.7 L1005.9 556.6 L1013.3 557.5 L1020.8 558.5 L1028.2 559.4 L1035.7 560.4 L1043.2 561.3 L1050.6 562.3 L1058.1 563.2 L1065.5 564.2 L1073.0 565.2 L1080.5 566.1 L1088.0 567.1 L1095.4 568.1 L1102.9 569.1 L1110.4 570.1 L1117.9 571.1 L1125.4 572.1 L1132.9 573.1 L1140.4 574.1 L1147.9 575.1 L1155.4 576.1 L1162.9 577.1 L1170.4 578.1 L1178.0 579.1 L1185.5 580.2 L1193.0 581.2 L1200.6 582.2 L1208.1 583.3 L1215.7 584.3 L1223.2 585.3 L1230.8 586.4 L1238.4 587.4 L1246.0 588.5 L1253.5 589.5 L1261.1 590.6 L1268.7 591.7 L1276.3 592.7 L1283.9 593.8 L1291.5 594.9 L1299.1 596.0 L1306.7 597.0 L1314.4 598.1 L1322.0 599.2 L1329.6 600.3 L1337.3 601.4 L1344.9 602.5 L1352.6 603.6 L1360.2 604.7 L1367.9 605.9 L1375.6 607.0 L1383.3 608.1 L1390.9 609.2 L1398.6 610.4 L1406.3 611.5 L1414.0 612.7 L1421.7 613.8 L1429.4 614.9 L1437.2 616.1 L1444.9 617.3 L1452.6 618.4 L1460.4 619.6 L1468.1 620.8 L1475.9 621.9 L1483.6 623.1 L1491.4 624.3 L1499.2 625.5 L1507.0 626.7 L1514.8 627.9 L1522.6 629.1 L1530.4 630.3 L1538.2 631.5 L1546.0 632.7 L1553.9 633.9 L1561.7 635.1 L1569.6 636.3 L1577.4 637.6 L1585.3 638.8 L1593.2 640.0 L1601.1 641.3 L1609.0 642.5 L1616.9 643.8 L1624.8 645.0 L1632.7 646.3 L1640.6 647.5 L1648.6 648.8 L1656.5 650.1 L1664.5 651.3 L1672.5 652.6 L3300.0 652.6 L3300.0 540.4 L1697.2 540.4 L1689.4 539.2 L1681.5 538.0 L1673.7 536.8 L1665.9 535.5 L1658.2 534.3 L1650.4 533.1 L1642.6 531.9 L1634.9 530.7 L1627.2 529.5 L1619.4 528.3 L1611.7 527.1 L1604.0 525.9 L1596.4 524.7 L1588.7 523.5 L1581.0 522.4 L1573.4 521.2 L1565.7 520.0 L1558.1 518.8 L1550.5 517.7 L1542.9 516.5 L1535.3 515.3 L1527.7 514.2 L1520.2 513.0 L1512.6 511.9 L1505.1 510.7 L1497.5 509.6 L1490.0 508.4 L1482.5 507.3 L1475.0 506.1 L1467.5 505.0 L1460.0 503.9 L1452.5 502.7 L1445.1 501.6 L1437.6 500.5 L1430.2 499.4 L1422.8 498.3 L1415.3 497.1 L1407.9 496.0 L1400.5 494.9 L1393.1 493.8 L1385.7 492.7 L1378.4 491.6 L1371.0 490.5 L1363.6 489.5 L1356.3 488.4 L1348.9 487.3 L1341.6 486.2 L1334.3 485.1 L1327.0 484.1 L1319.7 483.0 L1312.4 481.9 L1305.1 480.9 L1297.8 479.8 L1290.5 478.7 L1283.2 477.7 L1276.0 476.6 L1268.7 475.6 L1261.4 474.6 L1254.2 473.5 L1247.0 472.5 L1239.7 471.5 L1232.5 470.4 L1225.3 469.4 L1218.1 468.4 L1210.9 467.4 L1203.6 466.4 L1196.5 465.3 L1189.3 464.3 L1182.1 463.3 L1174.9 462.3 L1167.7 461.3 L1160.5 460.4 L1153.4 459.4 L1146.2 458.4 L1139.1 457.4 L1131.9 456.4 L1124.8 455.4 L1117.6 454.5 L1110.5 453.5 L1103.4 452.5 L1096.2 451.6 L1089.1 450.6 L1082.0 449.7 L1074.9 448.7 L1067.8 447.8 L1060.6 446.8 L1053.5 445.9 L1046.4 445.0 L1039.4 444.0 L1032.3 443.1 L1025.2 442.2 L1018.1 441.2 L1011.0 440.3 L1004.0 439.4 L996.9 438.5 L989.8 437.6 L982.8 436.7 L975.7 435.8 L968.7 434.9 L-1000.0 434.9Z" fill="#ff5a00"/>
<path d="M-1000.0 436.1 L968.7 436.1 L975.7 437.0 L982.8 437.9 L989.8 438.8 L996.9 439.7 L1004.0 440.6 L1011.0 441.5 L1018.1 442.4 L1025.2 443.4 L1032.3 444.3 L1039.4 445.2 L1046.4 446.2 L1053.5 447.1 L1060.6 448.0 L1067.8 449.0 L1074.9 449.9 L1082.0 450.9 L1089.1 451.8 L1096.2 452.8 L1103.4 453.7 L1110.5 454.7 L1117.6 455.7 L1124.8 456.6 L1131.9 457.6 L1139.1 458.6 L1146.2 459.6 L1153.4 460.6 L1160.5 461.6 L1167.7 462.5 L1174.9 463.5 L1182.1 464.5 L1189.3 465.5 L1196.5 466.5 L1203.6 467.6 L1210.9 468.6 L1218.1 469.6 L1225.3 470.6 L1232.5 471.6 L1239.7 472.7 L1247.0 473.7 L1254.2 474.7 L1261.4 475.8 L1268.7 476.8 L1276.0 477.8 L1283.2 478.9 L1290.5 479.9 L1297.8 481.0 L1305.1 482.1 L1312.4 483.1 L1319.7 484.2 L1327.0 485.3 L1334.3 486.3 L1341.6 487.4 L1348.9 488.5 L1356.3 489.6 L1363.6 490.7 L1371.0 491.7 L1378.4 492.8 L1385.7 493.9 L1393.1 495.0 L1400.5 496.1 L1407.9 497.2 L1415.3 498.3 L1422.8 499.5 L1430.2 500.6 L1437.6 501.7 L1445.1 502.8 L1452.5 503.9 L1460.0 505.1 L1467.5 506.2 L1475.0 507.3 L1482.5 508.5 L1490.0 509.6 L1497.5 510.8 L1505.1 511.9 L1512.6 513.1 L1520.2 514.2 L1527.7 515.4 L1535.3 516.5 L1542.9 517.7 L1550.5 518.9 L1558.1 520.0 L1565.7 521.2 L1573.4 522.4 L1581.0 523.6 L1588.7 524.7 L1596.4 525.9 L1604.0 527.1 L1611.7 528.3 L1619.4 529.5 L1627.2 530.7 L1634.9 531.9 L1642.6 533.1 L1650.4 534.3 L1658.2 535.5 L1665.9 536.7 L1673.7 538.0 L1681.5 539.2 L1689.4 540.4 L1697.2 541.6 L3300.0 541.6 L3300.0 431.0 L1716.5 431.0 L1708.7 429.8 L1700.9 428.7 L1693.2 427.5 L1685.4 426.4 L1677.7 425.3 L1670.0 424.1 L1662.3 423.0 L1654.6 421.9 L1647.0 420.7 L1639.3 419.6 L1631.7 418.5 L1624.0 417.4 L1616.4 416.3 L1608.8 415.2 L1601.2 414.1 L1593.6 413.0 L1586.0 411.9 L1578.4 410.8 L1570.9 409.7 L1563.4 408.6 L1555.8 407.5 L1548.3 406.4 L1540.8 405.3 L1533.3 404.2 L1525.9 403.2 L1518.4 402.1 L1511.0 401.0 L1503.6 399.9 L1496.2 398.9 L1488.8 397.8 L1481.4 396.7 L1474.0 395.7 L1466.6 394.6 L1459.3 393.6 L1452.0 392.5 L1444.6 391.4 L1437.3 390.4 L1430.0 389.3 L1422.8 388.3 L1415.5 387.3 L1408.2 386.2 L1401.0 385.2 L1393.7 384.1 L1386.5 383.1 L1379.3 382.1 L1372.1 381.0 L1364.9 380.0 L1357.7 379.0 L1350.6 378.0 L1343.4 376.9 L1336.2 375.9 L1329.1 374.9 L1322.0 373.9 L1314.9 372.9 L1307.8 371.9 L1300.7 370.9 L1293.6 369.9 L1286.5 368.9 L1279.5 367.9 L1272.4 366.9 L1265.4 365.9 L1258.3 364.9 L1251.3 363.9 L1244.3 362.9 L1237.3 362.0 L1230.3 361.0 L1223.3 360.0 L1216.4 359.0 L1209.4 358.1 L1202.5 357.1 L1195.5 356.1 L1188.6 355.2 L1181.7 354.2 L1174.7 353.3 L1167.8 352.3 L1160.9 351.3 L1154.0 350.4 L1147.2 349.4 L1140.3 348.5 L1133.4 347.6 L1126.6 346.6 L1119.7 345.7 L1112.9 344.7 L1106.0 343.8 L1099.2 342.9 L1092.4 342.0 L1085.6 341.0 L1078.8 340.1 L1072.0 339.2 L1065.2 338.3 L1058.4 337.4 L1051.7 336.5 L1044.9 335.5 L1038.1 334.6 L1031.4 333.7 L1024.6 332.8 L1017.9 331.9 L1011.2 331.0 L1004.4 330.2 L-1000.0 330.2Z" fill="#ff0000"/>
<path d="M-1000.0 331.4 L1004.4 331.4 L1011.2 332.2 L1017.9 333.1 L1024.6 334.0 L1031.4 334.9 L1038.1 335.8 L1044.9 336.7 L1051.7 337.7 L1058.4 338.6 L1065.2 339.5 L1072.0 340.4 L1078.8 341.3 L1085.6 342.2 L1092.4 343.2 L1099.2 344.1 L1106.0 345.0 L1112.9 345.9 L1119.7 346.9 L1126.6 347.8 L1133.4 348.8 L1140.3 349.7 L1147.2 350.6 L1154.0 351.6 L1160.9 352.5 L1167.8 353.5 L1174.7 354.5 L1181.7 355.4 L1188.6 356.4 L1195.5 357.3 L1202.5 358.3 L1209.4 359.3 L1216.4 360.2 L1223.3 361.2 L1230.3 362.2 L1237.3 363.2 L1244.3 364.1 L1251.3 365.1 L1258.3 366.1 L1265.4 367.1 L1272.4 368.1 L1279.5 369.1 L1286.5 370.1 L1293.6 371.1 L1300.7 372.1 L1307.8 373.1 L1314.9 374.1 L1322.0 375.1 L1329.1 376.1 L1336.2 377.1 L1343.4 378.1 L1350.6 379.2 L1357.7 380.2 L1364.9 381.2 L1372.1 382.2 L1379.3 383.3 L1386.5 384.3 L1393.7 385.3 L1401.0 386.4 L1408.2 387.4 L1415.5 388.5 L1422.8 389.5 L1430.0 390.5 L1437.3 391.6 L1444.6 392.6 L1452.0 393.7 L1459.3 394.8 L1466.6 395.8 L1474.0 396.9 L1481.4 397.9 L1488.8 399.0 L1496.2 400.1 L1503.6 401.1 L1511.0 402.2 L1518.4 403.3 L1525.9 404.4 L1533.3 405.4 L1540.8 406.5 L1548.3 407.6 L1555.8 408.7 L1563.4 409.8 L1570.9 410.9 L1578.4 412.0 L1586.0 413.1 L1593.6 414.2 L1601.2 415.3 L1608.8 416.4 L1616.4 417.5 L1624.0 418.6 L1631.7 419.7 L1639.3 420.8 L1647.0 421.9 L1654.6 423.1 L1662.3 424.2 L1670.0 425.3 L1677.7 426.5 L1685.4 427.6 L1693.2 428.7 L1700.9 429.9 L1708.7 431.0 L1716.5 432.2 L3300.0 432.2 L3300.0 280.6 L1484.3 280.6 L1477.0 279.9 L1469.7 279.3 L1462.4 278.7 L1455.2 278.1 L1447.9 277.5 L1440.7 276.9 L1433.4 276.5 L1426.2 276.0 L1419.0 275.5 L1411.8 275.0 L1404.7 274.6 L1397.5 274.3 L1390.3 273.9 L1383.2 273.6 L1376.1 273.1 L1369.0 272.4 L1361.9 271.7 L1354.8 271.0 L1347.7 270.2 L1340.6 269.3 L1333.5 268.3 L1326.4 267.4 L1319.4 266.5 L1312.3 265.6 L1305.2 264.7 L1298.2 263.8 L1291.1 262.9 L1284.1 262.0 L1277.1 261.0 L1270.1 260.1 L1263.1 259.2 L1256.2 258.3 L1249.2 257.4 L1242.3 256.5 L1235.4 255.6 L1228.5 254.7 L1221.7 253.8 L1214.8 252.9 L1208.0 252.0 L1201.1 251.1 L1194.3 250.3 L1187.5 249.4 L1180.7 248.5 L1173.9 247.6 L1167.1 246.7 L1160.4 245.8 L1153.6 244.9 L1146.9 244.1 L1140.1 243.2 L1133.4 242.3 L1126.7 241.4 L1120.0 240.6 L1113.3 239.7 L1106.6 238.8 L1099.9 238.0 L1093.3 237.1 L1086.6 236.3 L1080.0 235.4 L1073.3 234.5 L1066.7 233.7 L1060.1 232.8 L1053.5 232.0 L1046.9 231.1 L1040.3 230.3 L1033.8 229.5 L1027.2 228.6 L-1000.0 228.6Z" fill="#ff0000"/>
<path d="M-1000.0 229.8 L1027.2 229.8 L1033.8 230.7 L1040.3 231.5 L1046.9 232.3 L1053.5 233.2 L1060.1 234.0 L1066.7 234.9 L1073.3 235.7 L1080.0 236.6 L1086.6 237.5 L1093.3 238.3 L1099.9 239.2 L1106.6 240.0 L1113.3 240.9 L1120.0 241.8 L1126.7 242.6 L1133.4 243.5 L1140.1 244.4 L1146.9 245.3 L1153.6 246.1 L1160.4 247.0 L1167.1 247.9 L1173.9 248.8 L1180.7 249.7 L1187.5 250.6 L1194.3 251.5 L1201.1 252.3 L1208.0 253.2 L1214.8 254.1 L1221.7 255.0 L1228.5 255.9 L1235.4 256.8 L1242.3 257.7 L1249.2 258.6 L1256.2 259.5 L1263.1 260.4 L1270.1 261.3 L1277.1 262.2 L1284.1 263.2 L1291.1 264.1 L1298.2 265.0 L1305.2 265.9 L1312.3 266.8 L1319.4 267.7 L1326.4 268.6 L1333.5 269.5 L1340.6 270.5 L1347.7 271.4 L1354.8 272.2 L1361.9 272.9 L1369.0 273.6 L1376.1 274.3 L1383.2 274.8 L1390.3 275.1 L1397.5 275.5 L1404.7 275.8 L1411.8 276.2 L1419.0 276.7 L1426.2 277.2 L1433.4 277.7 L1440.7 278.1 L1447.9 278.7 L1455.2 279.3 L1462.4 279.9 L1469.7 280.5 L1477.0 281.1 L1484.3 281.8 L3300.0 281.8 L3300.0 145.2 L1190.7 145.2 L1183.9 144.4 L1177.2 143.6 L1170.4 142.8 L1163.7 142.0 L1157.0 141.3 L1150.3 140.5 L1143.7 139.7 L1137.0 138.9 L1130.3 138.2 L1123.7 137.4 L1117.1 136.6 L1110.5 135.8 L1103.9 135.1 L1097.3 134.3 L1090.7 133.5 L1084.1 132.8 L1077.5 132.0 L1071.0 131.3 L1064.4 130.5 L1057.8 129.8 L1051.3 129.0 L1044.7 128.3 L-1000.0 128.3Z" fill="#dc0000"/>
<path d="M-1000.0 129.5 L1044.7 129.5 L1051.3 130.2 L1057.8 131.0 L1064.4 131.7 L1071.0 132.5 L1077.5 133.2 L1084.1 134.0 L1090.7 134.7 L1097.3 135.5 L1103.9 136.3 L1110.5 137.0 L1117.1 137.8 L1123.7 138.6 L1130.3 139.4 L1137.0 140.1 L1143.7 140.9 L1150.3 141.7 L1157.0 142.5 L1163.7 143.2 L1170.4 144.0 L1177.2 144.8 L1183.9 145.6 L1190.7 146.4 L3300.0 146.4 L3300.0 -1000.0 L-1000.0 -1000.0Z" fill="#a00000"/>
</g>
<g id="axes" stroke="#000" fill="none" stroke-linecap="butt">
<polyline points="238.6,180.7 285.2,1288.3" stroke-width="4.0" stroke-linecap="square"/>
<polyline points="285.2,1288.3 1150.0,1606.1 1837.4,1243.1" stroke-width="4.5" stroke-linejoin="round" stroke-linecap="round"/>
<line x1="1150.0" y1="1606.1" x2="1150.0" y2="1636.6" stroke-width="5.0"/>
<line x1="1094.8" y1="1585.8" x2="1094.8" y2="1600.6" stroke-width="4.4"/>
<line x1="1040.5" y1="1565.9" x2="1040.5" y2="1595.5" stroke-width="5.0"/>
<line x1="987.2" y1="1546.3" x2="987.2" y2="1560.7" stroke-width="4.4"/>
<line x1="934.8" y1="1527.0" x2="934.8" y2="1555.8" stroke-width="5.0"/>
<line x1="883.2" y1="1508.1" x2="883.2" y2="1522.1" stroke-width="4.4"/>
<line x1="832.6" y1="1489.5" x2="832.6" y2="1517.4" stroke-width="5.0"/>
<line x1="782.8" y1="1471.2" x2="782.8" y2="1484.8" stroke-width="4.4"/>
<line x1="733.8" y1="1453.2" x2="733.8" y2="1480.3" stroke-width="5.0"/>
<line x1="685.6" y1="1435.5" x2="685.6" y2="1448.7" stroke-width="4.4"/>
<line x1="638.2" y1="1418.1" x2="638.2" y2="1444.5" stroke-width="5.0"/>
<line x1="591.6" y1="1400.9" x2="591.6" y2="1413.9" stroke-width="4.4"/>
<line x1="545.7" y1="1384.1" x2="545.7" y2="1409.7" stroke-width="5.0"/>
<line x1="500.6" y1="1367.5" x2="500.6" y2="1380.1" stroke-width="4.4"/>
<line x1="456.2" y1="1351.1" x2="456.2" y2="1376.1" stroke-width="5.0"/>
<line x1="412.4" y1="1335.1" x2="412.4" y2="1347.3" stroke-width="4.4"/>
<line x1="369.4" y1="1319.3" x2="369.4" y2="1343.5" stroke-width="5.0"/>
<line x1="327.0" y1="1303.7" x2="327.0" y2="1315.6" stroke-width="4.4"/>
<line x1="285.2" y1="1288.3" x2="285.2" y2="1311.9" stroke-width="5.0"/>
<line x1="1837.4" y1="1243.1" x2="1837.4" y2="1254.3" stroke-width="4.4"/>
<line x1="1795.6" y1="1265.1" x2="1795.6" y2="1288.1" stroke-width="5.0"/>
<line x1="1752.9" y1="1287.7" x2="1752.9" y2="1299.4" stroke-width="4.4"/>
<line x1="1709.2" y1="1310.7" x2="1709.2" y2="1334.7" stroke-width="5.0"/>
<line x1="1664.5" y1="1334.4" x2="1664.5" y2="1346.6" stroke-width="4.4"/>
<line x1="1618.6" y1="1358.6" x2="1618.6" y2="1383.6" stroke-width="5.0"/>
<line x1="1571.7" y1="1383.4" x2="1571.7" y2="1396.1" stroke-width="4.4"/>
<line x1="1523.5" y1="1408.8" x2="1523.5" y2="1434.9" stroke-width="5.0"/>
<line x1="1474.2" y1="1434.9" x2="1474.2" y2="1448.1" stroke-width="4.4"/>
<line x1="1423.6" y1="1461.6" x2="1423.6" y2="1488.9" stroke-width="5.0"/>
<line x1="1371.7" y1="1489.0" x2="1371.7" y2="1502.8" stroke-width="4.4"/>
<line x1="1318.4" y1="1517.1" x2="1318.4" y2="1545.6" stroke-width="5.0"/>
<line x1="1263.8" y1="1546.0" x2="1263.8" y2="1560.4" stroke-width="4.4"/>
<line x1="1207.6" y1="1575.6" x2="1207.6" y2="1605.4" stroke-width="5.0"/>
<line x1="286.2" y1="1288.3" x2="261.6" y2="1288.3" stroke-width="3.5"/>
<line x1="283.7" y1="1228.8" x2="270.8" y2="1228.8" stroke-width="3.8"/>
<line x1="282.2" y1="1193.7" x2="269.3" y2="1193.7" stroke-width="3.8"/>
<line x1="281.2" y1="1168.8" x2="268.2" y2="1168.8" stroke-width="3.8"/>
<line x1="280.4" y1="1149.4" x2="267.4" y2="1149.4" stroke-width="3.8"/>
<line x1="279.7" y1="1133.5" x2="266.7" y2="1133.5" stroke-width="3.8"/>
<line x1="279.1" y1="1120.1" x2="266.1" y2="1120.1" stroke-width="3.8"/>
<line x1="278.6" y1="1108.4" x2="265.6" y2="1108.4" stroke-width="3.8"/>
<line x1="278.2" y1="1098.1" x2="265.2" y2="1098.1" stroke-width="3.8"/>
<line x1="277.8" y1="1088.9" x2="252.7" y2="1088.9" stroke-width="3.5"/>
<line x1="275.3" y1="1027.9" x2="262.1" y2="1027.9" stroke-width="3.8"/>
<line x1="273.7" y1="992.1" x2="260.6" y2="992.1" stroke-width="3.8"/>
<line x1="272.7" y1="966.5" x2="259.5" y2="966.5" stroke-width="3.8"/>
<line x1="271.8" y1="946.7" x2="258.6" y2="946.7" stroke-width="3.8"/>
<line x1="271.1" y1="930.4" x2="257.9" y2="930.4" stroke-width="3.8"/>
<line x1="270.6" y1="916.7" x2="257.3" y2="916.7" stroke-width="3.8"/>
<line x1="270.1" y1="904.7" x2="256.8" y2="904.7" stroke-width="3.8"/>
<line x1="269.6" y1="894.2" x2="256.4" y2="894.2" stroke-width="3.8"/>
<line x1="269.2" y1="884.7" x2="243.6" y2="884.7" stroke-width="3.5"/>
<line x1="266.6" y1="822.3" x2="253.2" y2="822.3" stroke-width="3.8"/>
<line x1="265.0" y1="785.6" x2="251.7" y2="785.6" stroke-width="3.8"/>
<line x1="263.9" y1="759.5" x2="250.5" y2="759.5" stroke-width="3.8"/>
<line x1="263.1" y1="739.1" x2="249.6" y2="739.1" stroke-width="3.8"/>
<line x1="262.4" y1="722.5" x2="248.9" y2="722.5" stroke-width="3.8"/>
<line x1="261.8" y1="708.4" x2="248.3" y2="708.4" stroke-width="3.8"/>
<line x1="261.3" y1="696.2" x2="247.8" y2="696.2" stroke-width="3.8"/>
<line x1="260.8" y1="685.4" x2="247.3" y2="685.4" stroke-width="3.8"/>
<line x1="260.4" y1="675.7" x2="234.3" y2="675.7" stroke-width="3.5"/>
<line x1="257.7" y1="611.8" x2="244.1" y2="611.8" stroke-width="3.8"/>
<line x1="256.1" y1="574.2" x2="242.5" y2="574.2" stroke-width="3.8"/>
<line x1="255.0" y1="547.4" x2="241.4" y2="547.4" stroke-width="3.8"/>
<line x1="254.1" y1="526.6" x2="240.4" y2="526.6" stroke-width="3.8"/>
<line x1="253.4" y1="509.6" x2="239.7" y2="509.6" stroke-width="3.8"/>
<line x1="252.8" y1="495.1" x2="239.1" y2="495.1" stroke-width="3.8"/>
<line x1="252.3" y1="482.6" x2="238.5" y2="482.6" stroke-width="3.8"/>
<line x1="251.8" y1="471.5" x2="238.1" y2="471.5" stroke-width="3.8"/>
<line x1="251.4" y1="461.6" x2="224.7" y2="461.6" stroke-width="3.5"/>
<line x1="248.6" y1="396.2" x2="234.8" y2="396.2" stroke-width="3.8"/>
<line x1="247.0" y1="357.7" x2="233.1" y2="357.7" stroke-width="3.8"/>
<line x1="245.9" y1="330.2" x2="232.0" y2="330.2" stroke-width="3.8"/>
<line x1="245.0" y1="308.9" x2="231.0" y2="308.9" stroke-width="3.8"/>
<line x1="244.2" y1="291.4" x2="230.3" y2="291.4" stroke-width="3.8"/>
<line x1="243.6" y1="276.6" x2="229.6" y2="276.6" stroke-width="3.8"/>
<line x1="243.1" y1="263.8" x2="229.1" y2="263.8" stroke-width="3.8"/>
<line x1="242.6" y1="252.5" x2="228.6" y2="252.5" stroke-width="3.8"/>
<line x1="242.2" y1="242.3" x2="214.9" y2="242.3" stroke-width="3.5"/>
</g>
<g id="labels" fill="#000" stroke="#fff" stroke-width="0.3" font-family="'Liberation Serif', 'Times New Roman', serif">
<text x="1149.7" y="1701.9" font-size="56.2" text-anchor="middle">20</text>
<text x="1040.2" y="1660.0" font-size="55.3" text-anchor="middle">30</text>
<text x="934.5" y="1619.5" font-size="54.3" text-anchor="middle">40</text>
<text x="832.3" y="1580.4" font-size="53.4" text-anchor="middle">50</text>
<text x="733.5" y="1542.6" font-size="52.5" text-anchor="middle">60</text>
<text x="637.9" y="1506.0" font-size="51.7" text-anchor="middle">70</text>
<text x="545.4" y="1470.6" font-size="50.8" text-anchor="middle">80</text>
<text x="455.9" y="1436.4" font-size="50.0" text-anchor="middle">90</text>
<text x="369.1" y="1403.1" font-size="49.3" text-anchor="middle">100</text>
<text x="284.9" y="1370.9" font-size="48.5" text-anchor="middle">110</text>
<text x="1795.3" y="1346.1" font-size="47.8" text-anchor="middle">10</text>
<text x="1708.9" y="1393.7" font-size="48.9" text-anchor="middle">20</text>
<text x="1618.3" y="1443.5" font-size="50.1" text-anchor="middle">30</text>
<text x="1523.2" y="1495.8" font-size="51.4" text-anchor="middle">40</text>
<text x="1423.3" y="1550.8" font-size="52.7" text-anchor="middle">50</text>
<text x="1318.1" y="1608.7" font-size="54.0" text-anchor="middle">60</text>
<text x="1207.3" y="1669.7" font-size="55.5" text-anchor="middle">70</text>
<text x="225.8" y="1308.6" font-size="46.1" text-anchor="end">10</text><text x="226.9" y="1287.4" font-size="31.3">1</text>
<text x="217.4" y="1109.2" font-size="47.0" text-anchor="end">10</text><text x="218.5" y="1088.0" font-size="32.0">2</text>
<text x="208.8" y="905.0" font-size="47.9" text-anchor="end">10</text><text x="209.9" y="883.8" font-size="32.6">3</text>
<text x="200.0" y="696.0" font-size="48.8" text-anchor="end">10</text><text x="201.1" y="674.8" font-size="33.2">4</text>
<text x="191.0" y="481.9" font-size="49.7" text-anchor="end">10</text><text x="192.1" y="460.7" font-size="33.8">5</text>
<text x="181.8" y="262.6" font-size="50.6" text-anchor="end">10</text><text x="182.9" y="241.4" font-size="34.4">6</text>
<text transform="translate(127.8,751.2) rotate(-90)" font-size="62" text-anchor="middle">Relative resistance increase γ (%)</text>
<text x="583.6" y="1644.2" font-size="61.5" text-anchor="middle" textLength="308.4" lengthAdjust="spacing">Strain ε (%)</text>
<text x="1724.1" y="1611.5" font-size="60.5" text-anchor="middle">Thickness <tspan font-style="italic">d</tspan> (nm)</text>
</g>
<g id="colorbar">
<rect x="1928.3" y="110.1" width="102.0" height="1053.4" fill="#fff" stroke="#000" stroke-width="3.4"/>
<rect x="1927.4" y="176.5" width="101.2" height="66.3" fill="#640000"/>
<rect x="1927.4" y="242.3" width="101.2" height="66.3" fill="#a00000"/>
<rect x="1927.4" y="308.0" width="101.2" height="66.3" fill="#dc0000"/>
<rect x="1927.4" y="373.8" width="101.2" height="66.3" fill="#ff0000"/>
<rect x="1927.4" y="439.6" width="101.2" height="66.3" fill="#ff0000"/>
<rect x="1927.4" y="505.3" width="101.2" height="66.3" fill="#ff5a00"/>
<rect x="1927.4" y="571.1" width="101.2" height="66.3" fill="#ffd200"/>
<rect x="1927.4" y="636.9" width="101.2" height="66.3" fill="#dcff0a"/>
<rect x="1927.4" y="702.7" width="101.2" height="66.3" fill="#78ff00"/>
<rect x="1927.4" y="768.4" width="101.2" height="66.3" fill="#00ff5a"/>
<rect x="1927.4" y="834.2" width="101.2" height="66.3" fill="#00beff"/>
<rect x="1927.4" y="900.0" width="101.2" height="66.3" fill="#0028ff"/>
<rect x="1927.4" y="965.7" width="101.2" height="66.3" fill="#7800f0"/>
<rect x="1927.4" y="1031.5" width="101.2" height="65.8" fill="#640064"/>
<g font-family="'Liberation Serif', 'Times New Roman', serif" fill="#000">
<line x1="2030.3" y1="176.5" x2="2057.0" y2="176.5" stroke="#000" stroke-width="3.2"/>
<text x="2071.6" y="192.8" font-size="44.5">1.0x10</text><text x="2194.8" y="176.1" font-size="31.0">7</text>
<line x1="2030.3" y1="242.3" x2="2057.0" y2="242.3" stroke="#000" stroke-width="3.2"/>
<text x="2071.6" y="258.6" font-size="44.5">3.2x10</text><text x="2194.8" y="241.9" font-size="31.0">6</text>
<line x1="2030.3" y1="308.0" x2="2057.0" y2="308.0" stroke="#000" stroke-width="3.2"/>
<text x="2071.6" y="324.3" font-size="44.5">1.0x10</text><text x="2194.8" y="307.6" font-size="31.0">6</text>
<line x1="2030.3" y1="373.8" x2="2057.0" y2="373.8" stroke="#000" stroke-width="3.2"/>
<text x="2071.6" y="390.1" font-size="44.5">3.2x10</text><text x="2194.8" y="373.4" font-size="31.0">5</text>
<line x1="2030.3" y1="439.6" x2="2057.0" y2="439.6" stroke="#000" stroke-width="3.2"/>
<text x="2071.6" y="455.9" font-size="44.5">1.0x10</text><text x="2194.8" y="439.2" font-size="31.0">5</text>
<line x1="2030.3" y1="505.3" x2="2057.0" y2="505.3" stroke="#000" stroke-width="3.2"/>
<text x="2071.6" y="521.6" font-size="44.5">3.2x10</text><text x="2194.8" y="504.9" font-size="31.0">4</text>
<line x1="2030.3" y1="571.1" x2="2057.0" y2="571.1" stroke="#000" stroke-width="3.2"/>
<text x="2071.6" y="587.4" font-size="44.5">1.0x10</text><text x="2194.8" y="570.7" font-size="31.0">4</text>
<line x1="2030.3" y1="636.9" x2="2057.0" y2="636.9" stroke="#000" stroke-width="3.2"/>
<text x="2071.6" y="653.2" font-size="44.5">3.2x10</text><text x="2194.8" y="636.5" font-size="31.0">3</text>
<line x1="2030.3" y1="702.7" x2="2057.0" y2="702.7" stroke="#000" stroke-width="3.2"/>
<text x="2071.6" y="719.0" font-size="44.5">1.0x10</text><text x="2194.8" y="702.3" font-size="31.0">3</text>
<line x1="2030.3" y1="768.4" x2="2057.0" y2="768.4" stroke="#000" stroke-width="3.2"/>
<text x="2071.6" y="784.7" font-size="44.5">3.2x10</text><text x="2194.8" y="768.0" font-size="31.0">2</text>
<line x1="2030.3" y1="834.2" x2="2057.0" y2="834.2" stroke="#000" stroke-width="3.2"/>
<text x="2071.6" y="850.5" font-size="44.5">1.0x10</text><text x="2194.8" y="833.8" font-size="31.0">2</text>
<line x1="2030.3" y1="900.0" x2="2057.0" y2="900.0" stroke="#000" stroke-width="3.2"/>
<text x="2071.6" y="916.3" font-size="44.5">3.2x10</text><text x="2194.8" y="899.6" font-size="31.0">1</text>
<line x1="2030.3" y1="965.7" x2="2057.0" y2="965.7" stroke="#000" stroke-width="3.2"/>
<text x="2071.6" y="982.0" font-size="44.5">1.0x10</text><text x="2194.8" y="965.3" font-size="31.0">1</text>
<line x1="2030.3" y1="1031.5" x2="2057.0" y2="1031.5" stroke="#000" stroke-width="3.2"/>
<text x="2071.6" y="1047.8" font-size="44.5">3.2x10</text><text x="2194.8" y="1031.1" font-size="31.0">0</text>
<line x1="2030.3" y1="1097.3" x2="2057.0" y2="1097.3" stroke="#000" stroke-width="3.2"/>
<text x="2071.6" y="1113.6" font-size="44.5">1.0x10</text><text x="2194.8" y="1096.9" font-size="31.0">0</text>
</g></g>
</svg>
</body></html>
